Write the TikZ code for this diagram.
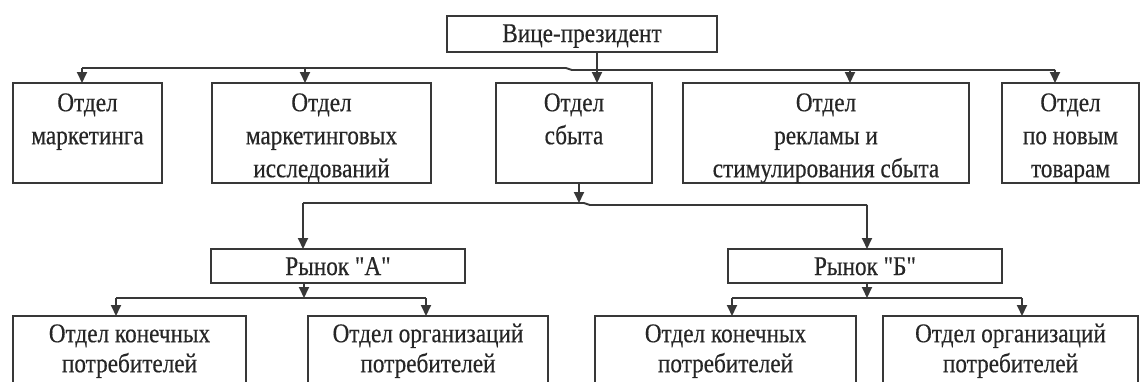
\documentclass[tikz,border=0pt]{standalone}
\usepackage{fontspec}
\setmainfont[FakeStretch=0.86, FakeBold=0.4, Ligatures=TeXOff]{Liberation Serif}
\usetikzlibrary{arrows.meta}
\begin{document}
\begin{tikzpicture}[x=1pt,y=-1pt,
  box/.style={draw=black!78, line width=1.9pt, inner sep=0pt, outer sep=0pt},
  txt/.style={font=\fontsize{27}{33}\selectfont, align=center, text=black!85, inner sep=0pt, anchor=base},
  mtxt/.style={font=\fontsize{27}{33}\selectfont, align=center, text=black!85, inner sep=0pt, anchor=north},
  mtxtb/.style={mtxt, font=\fontsize{27}{30}\selectfont},
  conn/.style={draw=black!78, line width=1.9pt},
  arr/.style={conn, -{Triangle[length=11pt,width=10pt]}}]
\useasboundingbox (0,0) rectangle (1141,381);
\clip (0,0) rectangle (1141,381);
\fill[white] (0,0) rectangle (1141,381);

% boxes
\node[box, minimum width=270, minimum height=36] (vp) at (582,34) {};
\node[txt] (vpt) at (582,42) {Вице-президент};

\node[box, minimum width=149, minimum height=100] (b1) at (87.5,133) {};
\node[box, minimum width=219, minimum height=100] (b2) at (321.5,133) {};
\node[box, minimum width=156, minimum height=100] (b3) at (574,133) {};
\node[box, minimum width=286, minimum height=100] (b4) at (826,133) {};
\node[box, minimum width=137, minimum height=100] (b5) at (1070.5,133) {};
\node[mtxt] (b1t) at (87.5,87.9) {\strut Отдел\\маркетинга};
\node[mtxt] (b2t) at (321.5,87.9) {\strut Отдел\\маркетинговых\\исследований};
\node[mtxt] (b3t) at (574,87.9) {\strut Отдел\\сбыта};
\node[mtxt] (b4t) at (826,87.9) {\strut Отдел\\рекламы и\\стимулирования сбыта};
\node[mtxt] (b5t) at (1070.5,87.9) {\strut Отдел\\по новым\\товарам};

\node[box, minimum width=254, minimum height=34] (ra) at (338,266) {};
\node[box, minimum width=274, minimum height=34] (rb) at (865,266) {};
\node[txt] (rat) at (338,275) {Рынок "А"};
\node[txt] (rbt) at (865,275) {Рынок "Б"};

\node[box, minimum width=233, minimum height=90] (a1) at (129.5,361) {};
\node[box, minimum width=240, minimum height=90] (a2) at (428,361) {};
\node[box, minimum width=261, minimum height=90] (c1) at (725.5,361) {};
\node[box, minimum width=255, minimum height=90] (c2) at (1010.5,361) {};
\node[mtxtb] (a1t) at (129.5,321) {\strut Отдел конечных\\потребителей};
\node[mtxtb] (a2t) at (428,321) {\strut Отдел организаций\\потребителей};
\node[mtxtb] (c1t) at (725.5,321) {\strut Отдел конечных\\потребителей};
\node[mtxtb] (c2t) at (1010.5,321) {\strut Отдел организаций\\потребителей};

% helper coordinates
\coordinate (vpx) at (597,0);
\coordinate (busL) at (82,68);
\coordinate (busJ1) at (566,68);
\coordinate (busJ2) at (572,70);
\coordinate (busR) at (1055,70);
\coordinate (b2x) at (305,68);
\coordinate (b4x) at (850,70);
\coordinate (s3) at (579,0);
\coordinate (lbL) at (303,203);
\coordinate (lbJ1) at (584,203);
\coordinate (lbJ2) at (590,205);
\coordinate (lbR) at (867,205);
\coordinate (ax) at (304,0);
\coordinate (abL) at (116,298);
\coordinate (abR) at (426,298);
\coordinate (bx) at (867,0);
\coordinate (bbL) at (732,298);
\coordinate (bbR) at (1022,298);

% top level
\draw[arr] (vp.south -| vpx) -- (b3.north -| vpx);
\draw[conn] (busL) -- (busJ1) -- (busJ2) -- (busR);
\draw[arr] (busL) -- (b1.north -| busL);
\draw[arr] (b2x) -- (b2.north -| b2x);
\draw[arr] (b4x) -- (b4.north -| b4x);
\draw[arr] (busR) -- (b5.north -| busR);

% sales to markets
\draw[arr] (b3.south -| s3) -- (s3 |- lbL);
\draw[conn] (lbL) -- (lbJ1) -- (lbJ2) -- (lbR);
\draw[arr] (lbL) -- (ra.north -| lbL);
\draw[arr] (lbR) -- (rb.north -| lbR);

% market A
\draw[arr] (ra.south -| ax) -- (ax |- abL);
\draw[conn] (abL) -- (abR);
\draw[arr] (abL) -- (a1.north -| abL);
\draw[arr] (abR) -- (a2.north -| abR);

% market B
\draw[arr] (rb.south -| bx) -- (bx |- bbL);
\draw[conn] (bbL) -- (bbR);
\draw[arr] (bbL) -- (c1.north -| bbL);
\draw[arr] (bbR) -- (c2.north -| bbR);
\end{tikzpicture}
\end{document}
